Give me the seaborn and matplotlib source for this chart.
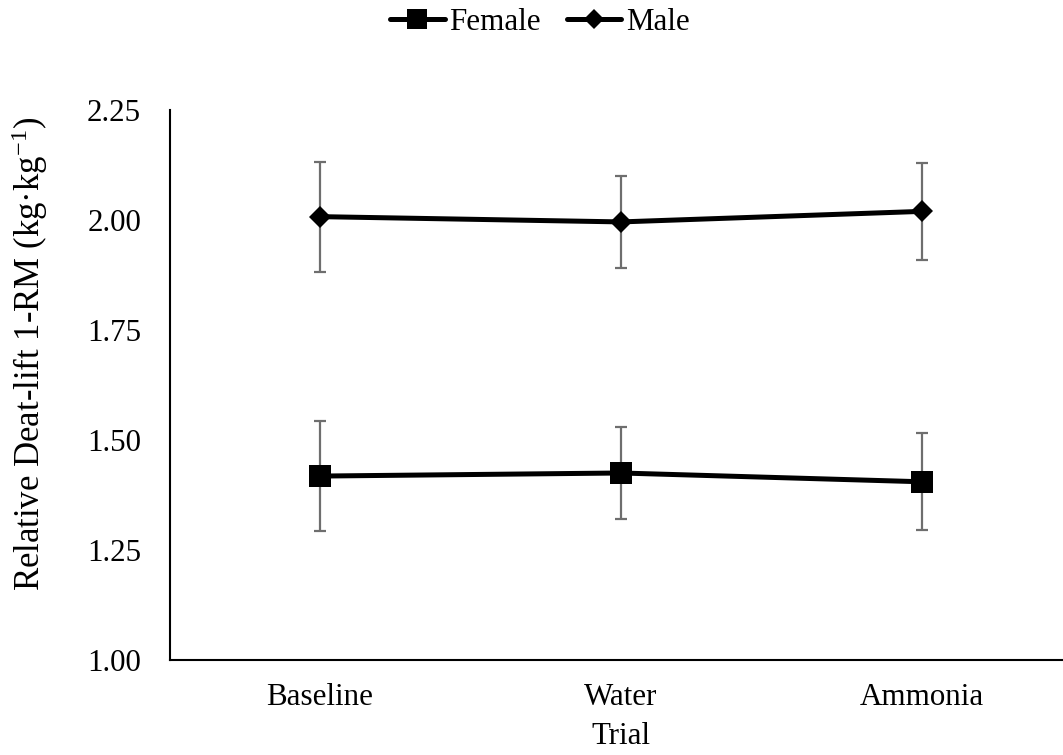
import matplotlib
matplotlib.use("Agg")
import matplotlib.pyplot as plt
import seaborn as sns
import numpy as np
import pandas as pd

trials = ["Baseline", "Water", "Ammonia"]
female_mean = [1.418, 1.425, 1.405]
female_err = [0.125, 0.105, 0.110]
male_mean = [2.008, 1.996, 2.020]
male_err = [0.125, 0.104, 0.110]
y_ticks = [1.00, 1.25, 1.50, 1.75, 2.00, 2.25]

sns.set_theme(style="white")
plt.rcParams["font.family"] = ["Liberation Serif", "DejaVu Serif"]
plt.rcParams["mathtext.fontset"] = "custom"
plt.rcParams["mathtext.rm"] = "Liberation Serif"
plt.rcParams["mathtext.it"] = "Liberation Serif:italic"
plt.rcParams["text.color"] = "black"
plt.rcParams["axes.labelcolor"] = "black"
plt.rcParams["xtick.color"] = "black"
plt.rcParams["ytick.color"] = "black"

FS = 22.3

df = pd.DataFrame({
    "Trial": trials * 2,
    "Value": female_mean + male_mean,
    "Sex": ["Female"] * len(trials) + ["Male"] * len(trials),
})

fig = plt.figure(figsize=(10.63, 7.55), dpi=100)
ax = fig.add_axes([0.1595, 0.126, 0.8495, 0.728])

xpos = np.arange(len(trials))
ax.errorbar(xpos, female_mean, yerr=female_err, fmt="none", ecolor="#6e6e6e",
            elinewidth=1.6, capsize=4.3, capthick=1.6, zorder=1)
ax.errorbar(xpos, male_mean, yerr=male_err, fmt="none", ecolor="#6e6e6e",
            elinewidth=1.6, capsize=4.3, capthick=1.6, zorder=1)

sns.lineplot(data=df, x="Trial", y="Value", hue="Sex", style="Sex",
             palette={"Female": "black", "Male": "black"},
             markers={"Female": "s", "Male": "D"},
             dashes={"Female": "", "Male": ""},
             linewidth=3.6, markersize=16.5, markeredgewidth=0,
             ax=ax, zorder=3, legend=True)

for line in ax.get_lines():
    if line.get_marker() == "D":
        line.set_markersize(11.5)

ax.set_xlim(-0.5, len(trials) - 0.5)
ax.set_ylim(y_ticks[0], y_ticks[-1])
ax.set_yticks(y_ticks)
ax.set_yticklabels([f"{t:.2f}" for t in y_ticks])
ax.tick_params(axis="both", length=0, labelsize=FS, colors="black")
ax.tick_params(axis="y", pad=20.5)
ax.tick_params(axis="x", pad=17)

for s in ["top", "right"]:
    ax.spines[s].set_visible(False)
for s in ["left", "bottom"]:
    ax.spines[s].set_color("black")
    ax.spines[s].set_linewidth(1.5)

ax.set_xlabel("Trial", fontsize=FS, color="black", labelpad=7)
ax.set_ylabel("Relative Deat-lift 1-RM (kg·kg$^{\\mathrm{-1}}$)",
              fontsize=25, color="black")
ax.yaxis.set_label_coords(0.047, 0.531, transform=fig.transFigure)

handles, labels = ax.get_legend_handles_labels()
for h in handles:
    h.set_linewidth(3.6)
    if h.get_marker() == "D":
        h.set_markersize(10.5)
    else:
        h.set_markersize(15)
leg = ax.legend(handles, labels, loc="center", bbox_to_anchor=(0.508, 0.97),
                bbox_transform=fig.transFigure, ncol=2, frameon=False,
                fontsize=FS, handlelength=1.75, handletextpad=0.15,
                columnspacing=0.85)
for t in leg.get_texts():
    t.set_color("black")

fig.savefig("out.png", dpi=100)
